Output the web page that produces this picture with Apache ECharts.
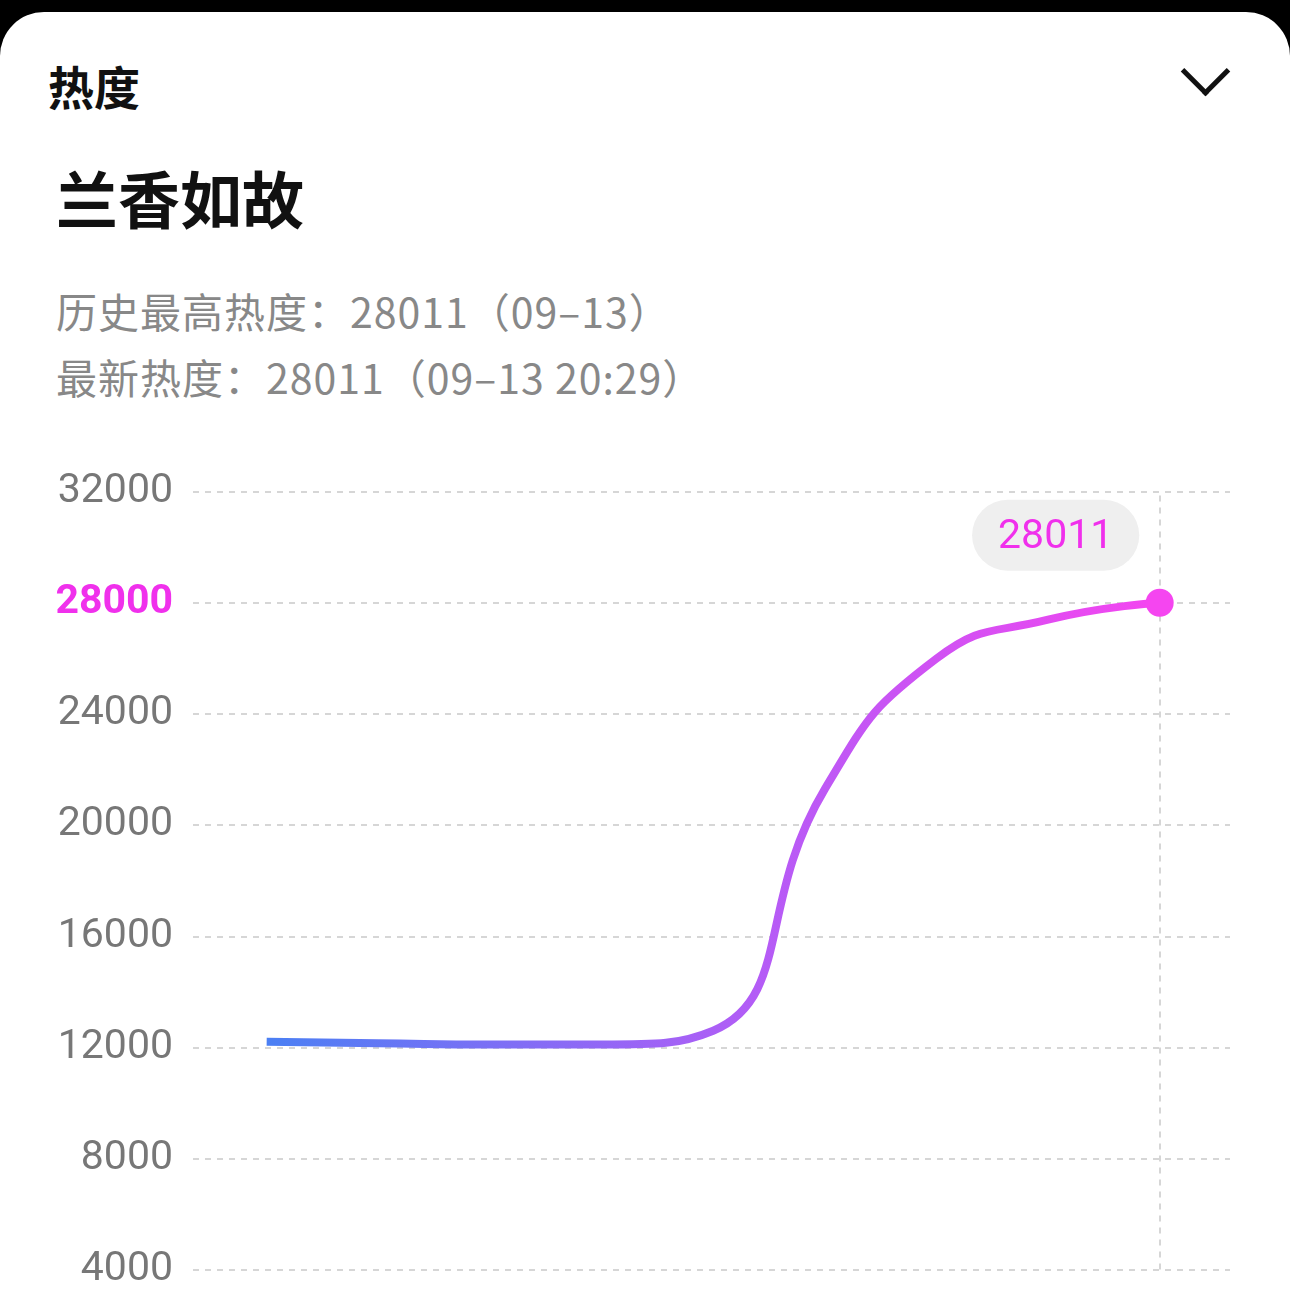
<!DOCTYPE html>
<html>
<head>
<meta charset="utf-8">
<script src="https://cdn.jsdelivr.net/npm/echarts@6/dist/echarts.min.js"></script>
<style>
html,body{margin:0;padding:0;background:#000;width:1290px;height:1290px;overflow:hidden;font-family:"Noto Sans CJK SC","Noto Sans",sans-serif}
.card{position:absolute;left:0;top:12px;width:1290px;height:1300px;background:#fff;border-radius:44px 44px 0 0}
.h1{position:absolute;left:48px;top:52px;font-size:46px;font-weight:bold;color:#111}
.chev{position:absolute;left:1188px;top:54px;width:30px;height:30px;border-right:5px solid #111;border-bottom:5px solid #111;transform:rotate(45deg)}
.name{position:absolute;left:56px;top:152px;font-size:62px;font-weight:bold;color:#111}
.info{position:absolute;left:56px;font-size:41px;color:#888;letter-spacing:1px}
#main{position:absolute;left:0;top:0;width:1290px;height:1290px}
</style>
</head>
<body>
<div class="card"></div>
<div class="h1">热度</div>
<div class="chev"></div>
<div class="name">兰香如故</div>
<div class="info" style="top:280px">历史最高热度：28011（09–13）</div>
<div class="info" style="top:346px">最新热度：28011（09–13 20:29）</div>
<div id="main"></div>
<script>
var xIdx = [0, 1, 2, 3, 4, 5, 6, 7, 8];
var heat = [12200, 12150, 12100, 12100, 12600, 21300, 26000, 27400, 28011];
var yTicks = [4000, 32000, 4000];

var chart = echarts.init(document.getElementById('main'));
var pts = xIdx.map(function (x, i) { return [x, heat[i]]; });
var last = heat.length - 1;

chart.setOption({
  animation: false,
  grid: { left: 193, right: 60, top: 492, bottom: 17 },
  xAxis: { type: 'value', min: -0.66, max: 8.63, show: false },
  yAxis: {
    type: 'value', min: yTicks[0], max: yTicks[1], interval: yTicks[2],
    axisLine: { show: false }, axisTick: { show: false },
    splitLine: { lineStyle: { type: [6, 6], color: '#d6d6d6', width: 2 } },
    axisLabel: {
      margin: 20, fontSize: 41, color: '#777', fontFamily: 'Roboto',
      formatter: function (v) { return v === 28000 ? '{hi|' + v + '}' : v; },
      rich: { hi: { fontSize: 41, color: '#f030ec', fontWeight: 'bold', fontFamily: 'Roboto' } }
    }
  },
  series: [{
    type: 'line', data: pts, smooth: 0.5, z: 5,
    showSymbol: true,
    symbol: function (v, p) { return p.dataIndex === last ? 'circle' : 'none'; },
    symbolSize: 28,
    itemStyle: { color: '#f545f0' },
    lineStyle: {
      width: 8,
      color: new echarts.graphic.LinearGradient(0, 0, 1, 0, [
        { offset: 0, color: '#4a80f4' },
        { offset: 0.55, color: '#b45cf6' },
        { offset: 1, color: '#f545f0' }
      ])
    },
    label: {
      show: true, position: 'top', distance: 18, offset: [-104, 0],
      formatter: function (p) { return p.dataIndex === last ? heat[last] : ''; },
      color: '#f030ec', fontSize: 41, fontFamily: 'Roboto',
      backgroundColor: '#efefef', borderRadius: 40, padding: [17, 26, 13, 26]
    },
    markLine: {
      silent: true, symbol: 'none', label: { show: false }, z: 1,
      lineStyle: { type: [6, 6], color: '#d6d6d6', width: 2 },
      data: [{ xAxis: 8 }]
    }
  }]
});
</script>
</body>
</html>
